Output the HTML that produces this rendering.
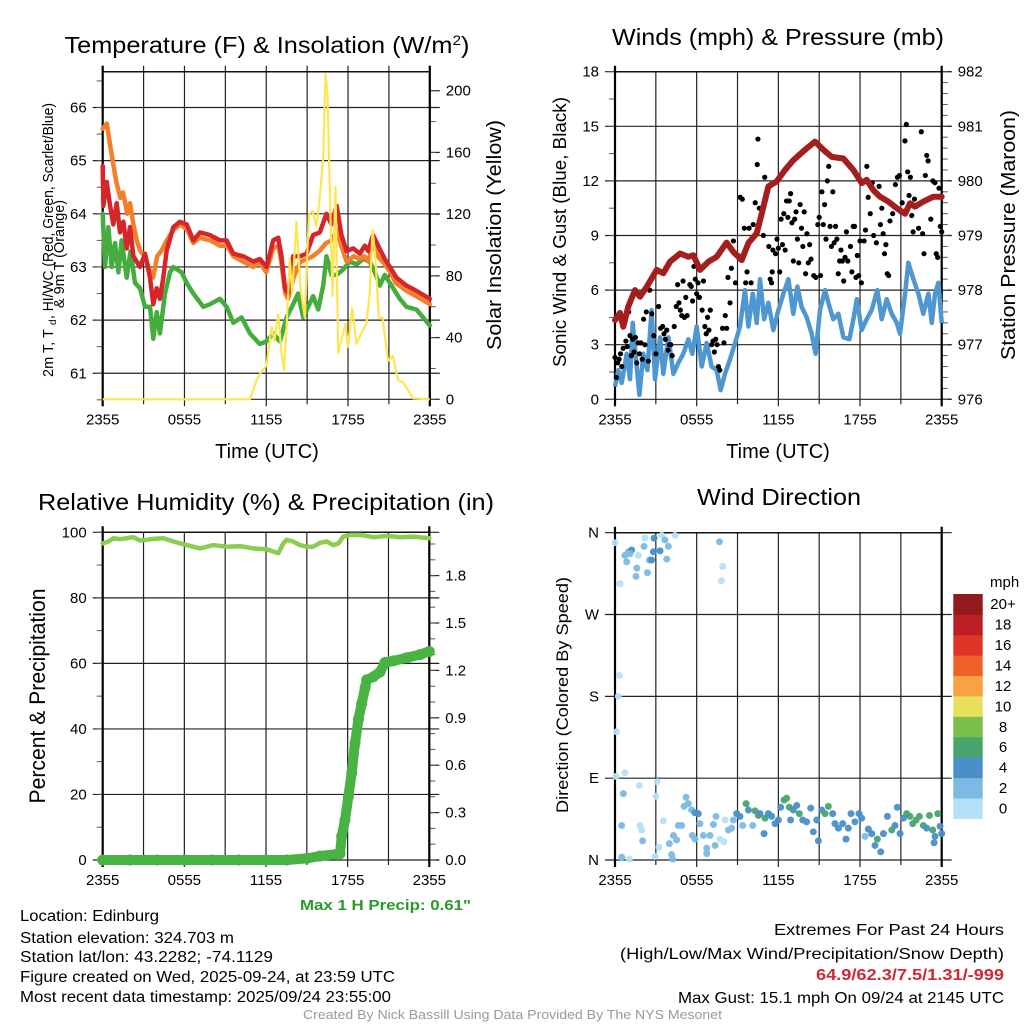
<!DOCTYPE html>
<html><head><meta charset="utf-8"><title>Mesonet Meteogram</title>
<style>
html,body{margin:0;padding:0;background:#fff;}
svg{display:block;font-family:"Liberation Sans",sans-serif;}
</style></head>
<body>
<svg id="chart" width="1024" height="1024" viewBox="0 0 1024 1024" xmlns="http://www.w3.org/2000/svg">
<rect x="0" y="0" width="1024" height="1024" fill="#fff"/>
<g id="layer"></g>
<text x="267" y="53" font-size="23" text-anchor="middle" textLength="405" lengthAdjust="spacingAndGlyphs">Temperature (F) &amp; Insolation (W/m<tspan dy="-8" font-size="14">2</tspan><tspan dy="8">)</tspan></text>
<text x="778" y="45" font-size="23" text-anchor="middle" textLength="332" lengthAdjust="spacingAndGlyphs">Winds (mph) &amp; Pressure (mb)</text>
<text x="266" y="510" font-size="23" text-anchor="middle" textLength="456" lengthAdjust="spacingAndGlyphs">Relative Humidity (%) &amp; Precipitation (in)</text>
<text x="779" y="505" font-size="23" text-anchor="middle" textLength="164" lengthAdjust="spacingAndGlyphs">Wind Direction</text>
<text x="267" y="458" font-size="20" text-anchor="middle">Time (UTC)</text>
<text x="778" y="458" font-size="20" text-anchor="middle">Time (UTC)</text>
<g transform="translate(53,0) rotate(-90)">
<text x="-377" y="0" font-size="14.5">2m T, T</text>
<text x="-325" y="3" font-size="10">d</text>
<text x="-319" y="0" font-size="14.5" textLength="216" lengthAdjust="spacingAndGlyphs">, HI/WC (Red, Green, Scarlet/Blue)</text>
</g>
<text transform="translate(64,254) rotate(-90)" font-size="14.5" text-anchor="middle">&amp; 9m T (Orange)</text>
<text transform="translate(501,235) rotate(-90)" font-size="20" text-anchor="middle" textLength="230" lengthAdjust="spacingAndGlyphs">Solar Insolation (Yellow)</text>
<text transform="translate(566,232) rotate(-90)" font-size="18" text-anchor="middle" textLength="270" lengthAdjust="spacingAndGlyphs">Sonic Wind &amp; Gust (Blue, Black)</text>
<text transform="translate(1015,235) rotate(-90)" font-size="20" text-anchor="middle" textLength="250" lengthAdjust="spacingAndGlyphs">Station Pressure (Maroon)</text>
<text transform="translate(45,696) rotate(-90)" font-size="22" text-anchor="middle" textLength="215" lengthAdjust="spacingAndGlyphs">Percent &amp; Precipitation</text>
<text transform="translate(568,695) rotate(-90)" font-size="17" text-anchor="middle" textLength="236" lengthAdjust="spacingAndGlyphs">Direction (Colored By Speed)</text>
<text x="300" y="910" font-size="15" font-weight="bold" fill="#2a9a2a" textLength="171" lengthAdjust="spacingAndGlyphs">Max 1 H Precip: 0.61"</text>
<text x="20" y="921" font-size="15.5" textLength="139" lengthAdjust="spacingAndGlyphs">Location: Edinburg</text>
<text x="20" y="943" font-size="15.5" textLength="214" lengthAdjust="spacingAndGlyphs">Station elevation: 324.703 m</text>
<text x="20" y="962" font-size="15.5" textLength="253" lengthAdjust="spacingAndGlyphs">Station lat/lon: 43.2282; -74.1129</text>
<text x="20" y="982" font-size="15.5" textLength="375" lengthAdjust="spacingAndGlyphs">Figure created on Wed, 2025-09-24, at 23:59 UTC</text>
<text x="20" y="1002" font-size="15.5" textLength="371" lengthAdjust="spacingAndGlyphs">Most recent data timestamp: 2025/09/24 23:55:00</text>
<text x="1004" y="935" font-size="16" text-anchor="end" textLength="230" lengthAdjust="spacingAndGlyphs">Extremes For Past 24 Hours</text>
<text x="1004" y="959" font-size="16" text-anchor="end" textLength="384" lengthAdjust="spacingAndGlyphs">(High/Low/Max Wind/Precipitation/Snow Depth)</text>
<text x="1004" y="980" font-size="16" font-weight="bold" fill="#cc2a36" text-anchor="end" textLength="188" lengthAdjust="spacingAndGlyphs">64.9/62.3/7.5/1.31/-999</text>
<text x="1004" y="1003" font-size="16" text-anchor="end" textLength="326" lengthAdjust="spacingAndGlyphs">Max Gust: 15.1 mph On 09/24 at 2145 UTC</text>
<text x="303" y="1019" font-size="12.5" fill="#999" textLength="419" lengthAdjust="spacingAndGlyphs">Created By Nick Bassill Using Data Provided By The NYS Mesonet</text>
</svg>
<script>
const xTickLabels = ["2355","0555","1155","1755","2355"];
const redT = [0,0.05,0.29,0.54,0.78,1.03,1.27,1.52,1.76,2.0,2.25,2.74,3.1,3.47,3.71,3.96,4.2,4.45,4.69,5.18,5.67,6.16,6.65,7.14,7.87,8.6,9.09,9.58,10.31,11.05,11.53,12.02,12.51,12.88,13.12,13.37,13.61,13.98,14.47,14.96,15.44,15.93,16.42,16.79,17.16,17.52,17.89,18.38,18.87,19.23,19.48,19.84,20.21,20.7,21.07,21.55,22.29,23.02,24];
const redV = [64.9,64.15,64.6,64.15,63.8,64.2,63.65,63.85,63.35,63.75,63.2,63.0,63.25,62.8,62.3,62.6,62.4,62.8,63.3,63.75,63.85,63.8,63.5,63.65,63.6,63.5,63.5,63.25,63.2,63.1,63.15,63.0,63.5,63.55,63.2,62.6,62.5,63.2,63.2,63.25,63.6,63.65,64.0,63.8,64.15,63.6,63.3,63.35,63.25,63.4,63.3,63.6,63.4,63.15,63.0,62.8,62.65,62.55,62.4];
const orangeT = [0,0.3,0.6,0.8,1.0,1.3,1.5,1.8,2.0,2.25,2.5,2.75,3.1,3.5,3.7,4.0,4.3,4.7,5.2,5.7,6.2,6.65,7.1,7.9,8.6,9.1,9.6,10.3,11.05,11.5,12.0,12.5,12.9,13.1,13.4,13.6,14.0,14.5,15.0,15.4,15.9,16.4,16.8,17.2,17.5,17.9,18.4,18.9,19.2,19.5,19.8,20.2,20.7,21.1,21.5,22.3,23.0,24];
const orangeV = [65.6,65.7,65.2,64.9,64.6,64.3,64.4,64.0,64.2,63.8,63.5,63.3,63.2,62.9,62.8,63.2,63.3,63.5,63.7,63.8,63.7,63.45,63.55,63.5,63.4,63.4,63.2,63.1,63.0,63.1,62.9,63.35,63.4,63.1,62.5,62.4,62.8,63.1,63.15,63.2,63.3,63.45,63.5,63.7,63.4,63.1,63.2,63.15,63.2,63.1,63.45,63.2,63.05,62.9,62.7,62.55,62.45,62.3];
const greenT = [0,0.17,0.42,0.66,0.9,1.15,1.39,1.76,2.05,2.37,2.74,3.1,3.47,3.71,3.96,4.2,4.57,4.94,5.18,5.79,6.16,6.65,7.38,7.87,8.6,9.09,9.58,10.19,10.8,11.53,12.02,12.51,13.0,13.49,13.98,14.34,14.71,15.08,15.44,15.81,16.18,16.42,16.79,17.16,17.64,18.13,18.62,19.11,19.6,19.97,20.33,20.7,21.19,21.8,22.29,23.02,23.51,24];
const greenV = [64.0,63.0,63.75,63.0,63.45,62.9,63.5,62.8,63.3,62.7,62.6,62.25,62.25,61.65,62.15,61.75,62.5,62.9,63.0,62.9,62.7,62.5,62.25,62.3,62.4,62.25,61.95,62.05,61.75,61.55,61.6,61.75,61.6,62.05,62.3,62.5,62.05,62.25,62.45,62.2,62.65,63.2,62.85,62.85,62.95,63.1,63.05,63.15,63.1,62.9,62.65,62.85,62.65,62.4,62.25,62.2,62.05,61.9];
const solarT = [0,10.8,11.29,11.66,12.02,12.39,12.6,12.88,13.12,13.3,13.49,13.73,13.9,14.22,14.5,14.83,15.13,15.4,15.69,15.93,16.18,16.35,16.5,16.67,16.86,17.08,17.28,17.5,17.82,18.0,18.3,18.62,18.99,19.35,19.6,19.8,20.0,20.26,20.53,20.94,21.3,21.67,22.04,22.78,24];
const solarV = [0,0,12.5,18,22,47,38,55,30,19,47,91,69,115,73,53,120,122,112,131,157,211,196,133,67,138,30,38,49,34,59,36,43,49,69,110,92,53,53,25,28,12.5,11,0.6,0];

const windT = [0,0.24,0.49,0.86,1.1,1.3,1.54,1.79,2.08,2.38,2.69,2.94,3.31,3.55,3.92,4.29,4.65,5.02,5.39,5.68,6.0,6.37,6.74,7.1,7.47,7.76,8.08,8.45,8.82,9.18,9.55,9.8,10.12,10.41,10.65,10.95,11.27,11.63,12.0,12.37,12.74,13.1,13.4,13.7,14.08,14.45,14.74,15.06,15.43,15.75,16.04,16.41,16.78,17.22,17.51,17.76,18.12,18.49,18.86,19.27,19.59,19.96,20.33,20.7,20.94,21.31,21.55,21.92,22.29,22.65,23.02,23.27,23.51,23.76,24];
const windV = [0.7,1.6,0.9,2.5,1.1,4.2,2.2,0.24,2.5,1.6,4.9,1.1,3.4,1.4,3.4,1.4,2.0,2.5,3.3,2.5,4.0,1.8,3.1,1.8,1.6,0.5,1.4,2.2,3.1,4.0,6.0,4.0,5.8,4.2,6.6,4.4,5.3,3.8,4.9,5.8,6.6,4.7,6.2,5.1,4.5,3.6,2.5,4.9,6.0,5.1,4.4,4.7,3.4,3.3,4.4,5.5,3.8,4.4,4.9,6.0,4.4,5.5,4.7,4.2,3.6,5.8,7.5,6.6,5.8,4.7,5.8,4.2,5.8,6.4,4.2];
const gustT = [0,0.1,0.2,0.3,0.4,0.5,0.6,0.7,0.8,0.9,1.0,1.1,1.2,1.3,1.4,1.5,1.6,1.7,1.8,1.9,2.0,2.1,2.2,2.3,2.45,2.55,2.7,2.85,3.0,3.2,3.35,3.5,3.6,3.7,3.8,3.9,4.0,4.1,4.2,4.35,4.5,4.6,4.7,4.8,4.9,5.0,5.1,5.2,5.3,5.5,5.6,5.7,5.8,5.9,6.0,6.1,6.2,6.4,6.5,6.6,6.7,6.8,6.9,7.0,7.1,7.2,7.3,7.4,7.5,7.6,7.7,7.9,8.0,8.1,8.2,8.3,8.45,8.55,8.7,8.85,9.05,9.2,9.35,9.5,9.6,9.7,9.85,10.0,10.15,10.3,10.45,10.5,10.6,10.8,10.9,11.0,11.1,11.3,11.4,11.5,11.55,11.6,11.8,11.9,12.0,12.1,12.2,12.3,12.4,12.5,12.6,12.7,12.8,12.9,13.0,13.1,13.2,13.3,13.4,13.5,13.6,13.7,13.8,13.9,14.0,14.1,14.2,14.3,14.4,14.6,14.75,14.9,15.0,15.1,15.2,15.3,15.4,15.5,15.6,15.7,15.8,15.9,16.0,16.1,16.2,16.3,16.4,16.5,16.6,16.7,16.8,16.9,17.0,17.1,17.3,17.4,17.5,17.6,17.7,17.8,17.9,18.0,18.1,18.3,18.4,18.5,18.6,18.75,18.9,19.0,19.2,19.4,19.5,19.6,19.7,19.8,19.9,20.0,20.1,20.2,20.4,20.6,20.75,20.9,21.0,21.1,21.3,21.4,21.5,21.6,21.7,21.8,21.9,22.0,22.1,22.3,22.5,22.6,22.7,22.8,22.9,23.0,23.2,23.35,23.5,23.6,23.7,23.8,23.9,24.0];
const gustV = [2.3,1.2,2.0,2.2,2.5,1.8,2.8,4.2,3.2,2.9,4.8,3.5,2.4,3.3,2.6,3.4,2.0,3.1,2.5,3.1,2.2,4.4,3.0,4.8,2.1,6.0,4.7,3.5,2.5,5.1,3.9,4.0,3.6,3.3,3.8,2.7,3.0,3.0,2.4,4.0,5.1,6.3,5.3,4.9,4.6,6.5,4.5,5.6,4.6,6.3,6.2,5.4,7.3,6.6,5.8,6.4,5.6,4.9,6.5,4.0,3.6,4.5,3.8,4.9,3.0,3.2,2.6,3.3,3.0,1.8,1.6,3.9,3.1,4.6,3.9,6.7,5.3,7.2,8.7,6.4,7.9,11.1,11.0,9.4,6.4,7.0,9.4,6.4,9.6,10.8,12.9,14.3,10.5,10.2,9.0,12.2,11.3,8.4,6.6,6.4,7.0,8.2,8.0,8.8,8.3,7.0,9.9,8.5,10.2,8.2,10.9,10.0,10.9,11.3,9.7,7.6,9.9,10.3,8.8,7.5,10.7,9.4,8.4,10.3,6.9,9.1,7.5,8.5,7.7,6.8,6.7,9.6,10.0,6.8,11.4,9.6,10.7,8.8,12.0,12.8,9.5,8.4,11.4,8.6,9.5,8.8,6.9,7.6,8.2,7.6,6.5,7.8,9.2,7.6,8.4,7.0,9.5,9.5,6.7,7.9,6.8,8.7,6.4,8.7,9.3,12.8,11.1,10.2,11.9,9.0,8.6,11.7,9.6,10.5,9.1,8.0,8.5,6.9,6.8,9.8,10.2,11.8,12.2,12.3,10.3,10.8,14.2,15.1,12.5,11.2,12.2,10.1,9.2,11.0,10.6,9.4,14.7,9.1,8.0,12.3,13.4,13.1,9.9,12.0,11.9,8.0,7.8,11.6,9.5,9.2];
const presT = [0,0.37,0.61,0.98,1.47,1.84,2.33,3.06,3.55,4.04,4.78,5.39,5.76,6.25,6.86,7.47,8.2,8.69,9.31,9.8,10.41,10.78,11.27,11.88,12.49,13.1,13.96,14.69,15.31,15.92,16.78,17.51,18.12,18.49,18.98,19.47,20.08,20.7,21.31,21.67,22.04,22.65,23.39,24];
const presV = [977.45,977.58,977.33,977.7,978.0,977.88,978.06,978.37,978.31,978.52,978.67,978.61,978.64,978.37,978.52,978.61,978.87,978.7,978.55,978.86,979.04,979.4,979.9,979.99,980.2,980.38,980.57,980.72,980.57,980.44,980.41,980.2,979.96,980.02,979.83,979.71,979.62,979.5,979.4,979.59,979.53,979.62,979.71,979.71];

const rhT = [0,0.42,0.78,1.27,1.76,2.25,2.74,3.23,3.72,4.46,5.19,6.17,7.15,8.13,9.11,10.09,11.07,12.05,12.9,13.27,13.52,14.0,14.5,14.99,15.48,15.97,16.46,16.95,17.32,17.68,18.17,18.9,19.89,20.87,21.85,22.83,24];
const rhV = [96.6,97.2,98.2,97.9,98.2,98.5,97.5,97.7,98.0,98.2,97.2,96.1,95.1,96.1,95.6,95.8,95.1,94.8,93.6,96.6,97.7,97.2,96.1,95.6,95.6,96.8,97.2,96.1,96.6,98.7,99.2,99.2,98.5,98.9,98.5,98.7,98.2];
const precT = [0,2,4,6,8,10,12,13.52,15.0,15.97,17.44,17.56,17.8,18.05,18.3,18.54,18.79,19.03,19.28,19.4,19.89,20.38,20.74,21.36,22.34,23.32,24];
const precV = [0,0,0,0,0,0,0,0,0.01,0.025,0.04,0.15,0.25,0.4,0.55,0.74,0.89,0.99,1.09,1.14,1.16,1.19,1.25,1.26,1.28,1.30,1.32];

const dirT = [0,0.37,0.73,0.98,1.22,1.1,0.86,1.6,1.54,1.71,2.2,2.13,2.38,2.52,2.69,2.87,2.82,3.31,3.43,3.67,3.8,3.92,4.41,7.67,7.91,7.81,0.32,0.24,0.12,0.07,0.73,0.61,1.79,3.11,3.01,0.49,1.84,1.96,2.03,0.49,1.05,2.94,3.23,3.55,3.99,4.16,4.24,4.29,4.53,4.65,4.9,5.07,5.22,5.39,5.63,5.88,6.12,5.68,5.88,6.24,6.49,6.74,6.74,6.98,7.23,7.42,7.35,7.71,8.0,8.08,8.33,8.57,8.69,8.94,9.18,9.38,9.63,9.8,10.12,10.29,10.53,10.65,10.95,11.02,11.27,11.51,11.76,12.0,12.17,12.42,12.61,12.81,12.9,13.1,13.35,13.54,13.79,14.08,14.38,14.57,14.82,14.94,15.18,15.43,15.67,15.99,16.16,16.41,16.73,16.97,17.14,17.34,17.63,17.93,18.12,18.37,18.61,18.86,19.1,19.27,19.52,19.72,20.01,20.33,20.57,20.74,20.94,21.19,21.43,21.67,21.87,22.12,22.36,22.65,22.9,23.1,23.34,23.51,23.71,23.88,24.0,23.44];
const dirV = [349,304,335,339,341,337,328,321,312,335,354,345,316,330,330,354,339,340,357,352,331,345,357,350,323,307,203,180,141,92,96,73,82,86,70,38,38,33,21,3,1,4,14,43,18,6,1,27,22,38,38,59,69,62,55,52,51,27,23,40,27,13,7,27,39,48,16,23,20,44,33,35,44,51,48,38,62,55,38,54,49,51,29,46,51,48,40,44,58,66,68,58,44,55,60,51,44,42,57,31,44,21,55,51,59,51,40,35,40,23,35,51,42,51,46,26,34,29,16,23,9,29,48,33,38,58,29,46,51,48,40,44,48,38,35,49,33,26,51,37,29,19];
const dirSpd = [1.5,1,2.5,3,4.5,3.5,2.5,2.5,3,1.5,1,3,3,3.5,4.5,4.5,4.5,4.5,1,2.5,3,2.5,1,3,1.5,1.5,1,1,1,1,1,2.5,1.5,1.5,1.5,2.5,1.5,1.5,3,3,1,1,1,1,2.5,2.5,2.5,2.5,2.5,2.5,2.5,2.5,2.5,2.5,2.5,4.5,4.5,2.5,2.5,3,2.5,2.5,2.5,2.5,2.5,2.5,2.5,1,1,1,2.5,2.5,2.5,4.5,4.5,3,6.5,4.5,3,6.5,6.5,4.5,4.5,6.5,4.5,4.5,4.5,4.5,4.5,6.5,6.5,6.5,4.5,4.5,4.5,6.5,4.5,4.5,4.5,4.5,4,4.5,4.5,6.5,6.5,4.5,4.5,4.5,4.5,4.5,4.5,4.5,4.5,4.5,4.5,2.5,4.5,4.5,4.5,6.5,4.5,4.5,4.5,6.5,4.5,4.5,4.5,4.5,6.5,6.5,6.5,6.5,6.5,6.5,4.5,6.5,6.5,4.5,6.5,4.5,4.5,4.5];
const speedLabels = ["0","2","4","6","8","10","12","14","16","18","20+"];
const speedColors = ["#b4e1f6","#7db9e3","#4a8fc7","#48a56e","#7cc04c","#e8e05a","#f6a443","#ef6129","#dd3527","#bd1f26","#921a1c"];

const NS="http://www.w3.org/2000/svg";
const layer=document.getElementById('layer');
function mk(tag,attrs,parent){const e=document.createElementNS(NS,tag);for(const k in attrs)e.setAttribute(k,attrs[k]);(parent||layer).appendChild(e);return e;}
const PA={l:102.7,r:429.8,t:71.7,b:399.3}, PB={l:615,r:941.7,t:71.7,b:399.3};
const PC={l:102.7,r:429.3,t:532.3,b:860}, PD={l:615,r:941.7,t:532.7,b:860};
const xA=h=>PA.l+h*(PA.r-PA.l)/24;
const xB=h=>PB.l+h*(PB.r-PB.l)/24;
const xC=h=>PC.l+h*(PC.r-PC.l)/24;
const xD=h=>PD.l+h*(PD.r-PD.l)/24;
const yT=v=>PA.b-(v-60.51)*53.15;
const yS=v=>PA.b-v*1.543;
const yW=v=>PB.b-v*(PB.b-PB.t)/18;
const yP=v=>PB.b-(v-976)*(PB.b-PB.t)/6;
const yR=v=>PC.b-v*3.277;
const yPr=v=>PC.b-v*158;
const yD=v=>PD.b-v*(PD.b-PD.t)/360;
function pts(ts,vs,xf,yf){return ts.map((t,i)=>xf(t).toFixed(1)+','+yf(vs[i]).toFixed(1)).join(' ');}

function frame(P,xf,leftTicks,leftFmt,yl,leftMinor,rightTicks,rightFmt,yr,rightMinor,nm,gridLeft,hasTop){
  const g=mk('g',{});
  
  
  for(let h=0;h<=24;h+=3){
    const x=xf(h);
    const gl=mk('line',{x1:x,y1:P.t-(hasTop?6:0),x2:x,y2:P.b+(h%6===0?7:5),stroke:'#222','stroke-width':1.2},g);
    
    
  }
  xTickLabels.forEach((s,i)=>{
    const t=mk('text',{x:xf(i*6),y:P.b+25,'font-size':15,'text-anchor':'middle'},g);t.textContent=s;
    
    
  });
  leftTicks.forEach(v=>{
    const y=yl(v);
    if(gridLeft){const l=mk('line',{x1:P.l-10,y1:y,x2:P.r+10,y2:y,stroke:'#222','stroke-width':1.2},g);
      
      }
    const t=mk('text',{x:P.l-16,y:y+5,'font-size':15,'text-anchor':'end'},g);t.textContent=leftFmt(v);
    
    
  });
  leftMinor.forEach(v=>{const y=yl(v);if(y<P.t-1||y>P.b+1)return;const l=mk('line',{x1:P.l-6,y1:y,x2:P.l,y2:y,stroke:'#555','stroke-width':1},g);
    
    });
  rightTicks.forEach(v=>{const y=yr(v);
    const l=mk('line',{x1:P.r,y1:y,x2:P.r+10,y2:y,stroke:'#222','stroke-width':1.2},g);
    
    
    const t=mk('text',{x:P.r+16,y:y+5,'font-size':15},g);t.textContent=rightFmt(v);
    
    });
  rightMinor.forEach(v=>{const y=yr(v);if(y<P.t-1||y>P.b+1)return;const l=mk('line',{x1:P.r,y1:y,x2:P.r+6,y2:y,stroke:'#555','stroke-width':1},g);
    
    });
  const top=mk('line',{x1:P.l,y1:P.t,x2:P.r,y2:P.t,stroke:'#111','stroke-width':1.5},g);
  
  
  const lb=mk('line',{x1:P.l,y1:P.t-6,x2:P.l,y2:P.b+7,stroke:'#000','stroke-width':2.2},g);
  
  
  const rb=mk('line',{x1:P.r,y1:P.t-6,x2:P.r,y2:P.b+7,stroke:'#000','stroke-width':2.2},g);
  
  
}
function rng(a,b,s){const o=[];for(let v=a;v<=b+1e-9;v+=s)o.push(+v.toFixed(3));return o;}

frame(PA,xA,[61,62,63,64,65,66],v=>String(v),yT,rng(60.5,66.5,0.5),[0,40,80,120,160,200],v=>String(v),yS,rng(0,210,20),'temp',true,true);
const bot=mk('line',{x1:PA.l,y1:PA.b,x2:PA.r,y2:PA.b,stroke:'#222','stroke-width':1.2});


[[greenT,greenV,'#45ad3d','dewpoint-line'],[orangeT,orangeV,'#f47f2b','9m-temp-line'],[redT,redV,'#d7262a','2m-temp-line']].forEach(s=>{
  const p=mk('polyline',{points:pts(s[0],s[1],xA,yT),fill:'none',stroke:s[2],'stroke-width':4.5,'stroke-linejoin':'round','stroke-linecap':'round'});
  
  
});
const sol=mk('polyline',{points:pts(solarT,solarV,xA,yS),fill:'none',stroke:'#fde554','stroke-width':2.2,'stroke-linejoin':'round'});



frame(PB,xB,[0,3,6,9,12,15,18],v=>String(v),yW,rng(0,18,1.5),[976,977,978,979,980,981,982],v=>String(v),yP,rng(976,982,0.2),'wind',true,false);
const wl=mk('polyline',{points:pts(windT,windV,xB,yW),fill:'none',stroke:'#4f97d1','stroke-width':4.5,'stroke-linejoin':'round'});


gustT.forEach((t,i)=>{
  const c=mk('circle',{cx:xB(t),cy:yW(gustV[i]),r:2.6,fill:'#000'});
  
  
});
const pl=mk('polyline',{points:pts(presT,presV,xB,yP),fill:'none',stroke:'#a51e1e','stroke-width':6,'stroke-linejoin':'round','stroke-linecap':'round'});



frame(PC,xC,[0,20,40,60,80,100],v=>String(v),yR,rng(0,100,10),[0,0.3,0.6,0.9,1.2,1.5,1.8],v=>v.toFixed(1),yPr,rng(0,2,0.1),'humidity',true,false);
const rh=mk('polyline',{points:pts(rhT,rhV,xC,yR),fill:'none',stroke:'#8ccc50','stroke-width':4.5,'stroke-linejoin':'round','stroke-linecap':'round'});


const pr=mk('polyline',{points:pts(precT,precV,xC,yPr),fill:'none',stroke:'#48b343','stroke-width':10,'stroke-linejoin':'round','stroke-linecap':'round'});


precT.forEach((t,i)=>{
  const c=mk('circle',{cx:xC(t),cy:yPr(precV[i]),r:5.5,fill:'#48b343'});
  
  
});

frame(PD,xD,[0,90,180,270,360],v=>['N','E','S','W','N'][v/90],yD,[],[],String,yD,[],'direction',true,false);
dirT.forEach((t,i)=>{
  const bin=Math.min(10,Math.floor(dirSpd[i]/2));
  const c=mk('circle',{cx:xD(t),cy:yD(dirV[i]),r:3.5,fill:speedColors[bin],'fill-opacity':0.95});
  
  
});
const cbTop=594, cbH=(818.7-594)/11;
speedLabels.forEach((s,i)=>{
  const j=10-i;
  const r=mk('rect',{x:953.3,y:cbTop+j*cbH,width:29.4,height:cbH+0.3,fill:speedColors[i]});
  
  
  const t=mk('text',{x:1003,y:cbTop+j*cbH+cbH/2+5,'font-size':15,'text-anchor':'middle'});t.textContent=s;
  
  
});
const mph=mk('text',{x:990,y:587,'font-size':15});mph.textContent='mph';


</script>
</body></html>
